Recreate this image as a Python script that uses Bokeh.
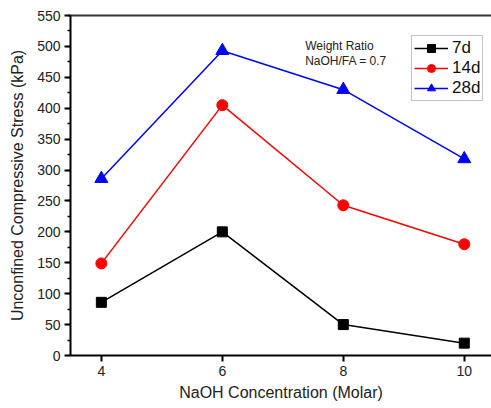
from bokeh.plotting import figure
from bokeh.models import Range1d, LinearAxis, FixedTicker, SingleIntervalTicker, Label, Legend
from bokeh.embed import file_html
from bokeh.resources import INLINE

conc = [4, 6, 8, 10]
d7 = [86, 200, 50, 20]
d14 = [149, 405, 243, 180]
d28 = [286, 493, 430, 318]
x_ticks = [4, 6, 8, 10]

FONT = "Liberation Sans"

p = figure(width=491, height=408, output_backend="svg", toolbar_location=None,
           x_range=Range1d(3.49, 10.45), y_range=Range1d(0, 550),
           min_border_left=70, min_border_right=0, min_border_top=15, min_border_bottom=53)
p.outline_line_color = None
p.grid.visible = False
p.background_fill_color = "white"

series = [(d7, "black", "square", 10, "7d"),
          (d14, "#FF0000", "circle", 11, "14d"),
          (d28, "#0000FF", "triangle", 13, "28d")]
for vals, col, mk, sz, lab in series:
    p.line(conc, vals, line_color=col, line_width=1.5, legend_label=lab)
    p.scatter(conc, vals, marker=mk, size=sz, fill_color=col, line_color=col, legend_label=lab)

# axes styling
p.xaxis.ticker = FixedTicker(ticks=x_ticks, minor_ticks=[])
p.yaxis.ticker = SingleIntervalTicker(interval=50, num_minor_ticks=2)
for ax in (p.xaxis[0], p.yaxis[0]):
    ax.axis_line_width = 2
    ax.axis_line_color = "black"
    ax.major_tick_line_width = 2
    ax.major_tick_line_color = "black"
    ax.minor_tick_line_width = 1.5
    ax.minor_tick_line_color = "black"
    ax.major_tick_in = 0
    ax.major_tick_out = 6
    ax.minor_tick_in = 0
    ax.minor_tick_out = 3
    ax.major_label_text_font = FONT
    ax.major_label_text_font_size = "14px"
    ax.major_label_text_color = "#222222"
    ax.axis_label_text_font = FONT
    ax.axis_label_text_font_size = "16px"
    ax.axis_label_text_font_style = "normal"
    ax.axis_label_text_color = "#222222"
p.xaxis.axis_label = "NaOH Concentration (Molar)"
p.yaxis.axis_label = "Unconfined Compressive Stress (kPa)"
p.xaxis.major_label_standoff = 4
p.yaxis.major_label_standoff = 4
p.xaxis.axis_label_standoff = 5
p.yaxis.axis_label_standoff = 8

top = LinearAxis(ticker=FixedTicker(ticks=[]), major_label_text_font_size="0px",
                 axis_line_color="#333333", axis_line_width=2,
                 major_tick_line_color=None, minor_tick_line_color=None)
p.add_layout(top, "above")

p.add_layout(Label(x=7.37, y=512, text="Weight Ratio", text_font=FONT,
                   text_font_size="12px", text_color="#222222", text_baseline="top"))
p.add_layout(Label(x=7.37, y=487, text="NaOH/FA = 0.7", text_font=FONT,
                   text_font_size="12px", text_color="#222222", text_baseline="top"))

leg = p.legend[0]
leg.location = (341, 254)
leg.label_text_font = FONT
leg.label_text_font_size = "17px"
leg.label_text_color = "#111111"
leg.glyph_width = 34
leg.glyph_height = 20
leg.label_height = 20
leg.label_standoff = 4
leg.padding = 2
leg.spacing = 0
leg.margin = 0
leg.border_line_color = "#888888"
leg.border_line_width = 1.5
leg.background_fill_alpha = 1

open("out.html", "w").write(file_html(p, INLINE))
